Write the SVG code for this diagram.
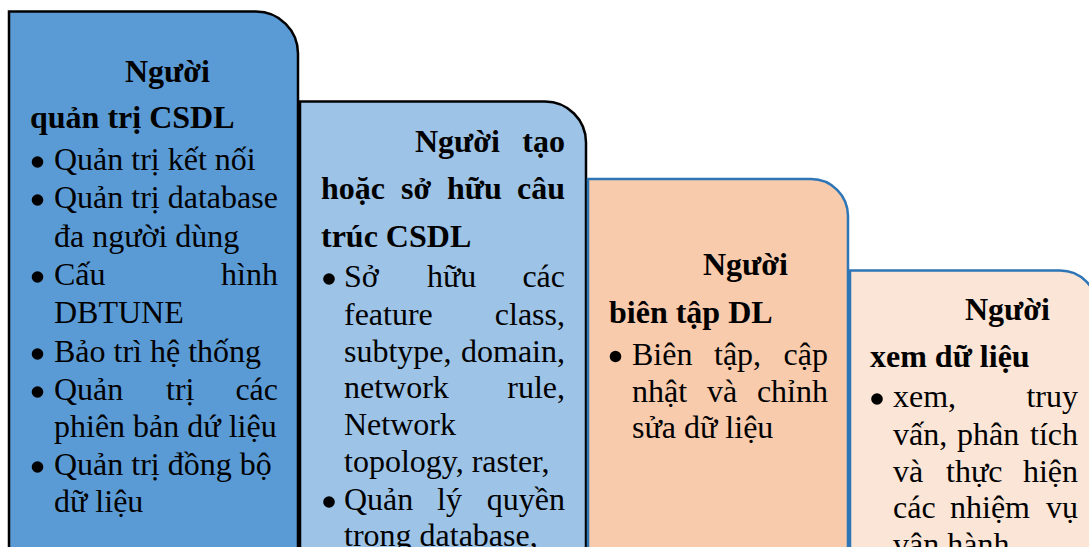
<svg xmlns="http://www.w3.org/2000/svg" width="1089" height="547" viewBox="0 0 1089 547">
<style>
.t{font-family:"Liberation Serif","Times New Roman",serif;font-size:32px;fill:#000}
.b{font-weight:bold}
.e{text-anchor:end}
.k{stroke:#000;stroke-width:2.5}
.u{stroke:#2E75B6;stroke-width:2.5}
.d{fill:#000}
</style>
<rect width="1089" height="547" fill="#fff"/>
<g id="node1">
<path class="k" fill="#5B9BD5" d="M9,11.5 H256 A42,42 0 0 1 298,53.5 V560 H9 Z"/>
<text class="t b" x="125" y="82">Người</text>
<text class="t b" x="30" y="128">quản trị CSDL</text>
<circle class="d" cx="37.5" cy="162" r="5.8"/>
<text class="t" x="54" y="170">Quản trị kết nối</text>
<circle class="d" cx="37.5" cy="200" r="5.8"/>
<text class="t" x="54" y="208">Quản trị database</text>
<text class="t" x="54" y="247">đa người dùng</text>
<circle class="d" cx="37.5" cy="277" r="5.8"/>
<text class="t" x="54" y="285">Cấu</text>
<text class="t e" x="278" y="285">hình</text>
<text class="t" x="54" y="323">DBTUNE</text>
<circle class="d" cx="37.5" cy="354" r="5.8"/>
<text class="t" x="54" y="362">Bảo trì hệ thống</text>
<circle class="d" cx="37.5" cy="392" r="5.8"/>
<text class="t" x="54" y="400">Quản</text>
<text class="t" x="166" y="400">trị</text>
<text class="t e" x="278" y="400">các</text>
<text class="t" x="54" y="437">phiên bản dứ liệu</text>
<circle class="d" cx="37.5" cy="467" r="5.8"/>
<text class="t" x="54" y="475">Quản trị đồng bộ</text>
<text class="t" x="54" y="512">dữ liệu</text>
</g>
<g id="node2">
<path class="k" fill="#9DC3E6" d="M300,101.5 H545 A41,41 0 0 1 586,142.5 V560 H300 Z"/>
<text class="t b" x="415" y="152">Người</text>
<text class="t b e" x="565" y="152">tạo</text>
<text class="t b" x="321" y="199">hoặc</text>
<text class="t b" x="401" y="199">sở</text>
<text class="t b" x="447" y="199">hữu</text>
<text class="t b e" x="565" y="199">câu</text>
<text class="t b" x="321" y="247">trúc CSDL</text>
<circle class="d" cx="329" cy="279" r="5.8"/>
<text class="t" x="344" y="287">Sở</text>
<text class="t" x="427" y="287">hữu</text>
<text class="t e" x="565" y="287">các</text>
<text class="t" x="344" y="325">feature</text>
<text class="t e" x="565" y="325">class,</text>
<text class="t" x="344" y="362">subtype,</text>
<text class="t e" x="565" y="362">domain,</text>
<text class="t" x="344" y="398">network</text>
<text class="t e" x="565" y="398">rule,</text>
<text class="t" x="344" y="435">Network</text>
<text class="t" x="344" y="472">topology, raster,</text>
<circle class="d" cx="329" cy="502" r="5.8"/>
<text class="t" x="344" y="510">Quản</text>
<text class="t" x="437" y="510">lý</text>
<text class="t e" x="565" y="510">quyền</text>
<text class="t" x="344" y="546">trong database,</text>
</g>
<g id="node3">
<path class="u" fill="#F8CBAD" d="M588,179 H811 A37,37 0 0 1 848,216 V560 H588 Z"/>
<text class="t b" x="703" y="275">Người</text>
<text class="t b" x="609" y="323">biên tập DL</text>
<circle class="d" cx="615.5" cy="356.5" r="5.8"/>
<text class="t" x="632" y="365">Biên</text>
<text class="t" x="714" y="365">tập,</text>
<text class="t e" x="828" y="365">cập</text>
<text class="t" x="632" y="402">nhật</text>
<text class="t" x="707" y="402">và</text>
<text class="t e" x="828" y="402">chỉnh</text>
<text class="t" x="632" y="438">sửa dữ liệu</text>
</g>
<g id="node4">
<path class="u" fill="#FBE5D6" d="M850,270.5 H1060 A37,37 0 0 1 1097,307.5 V560 H850 Z"/>
<text class="t b" x="965" y="320">Người</text>
<text class="t b" x="870" y="367">xem dữ liệu</text>
<circle class="d" cx="877" cy="399" r="5.8"/>
<text class="t" x="893" y="407">xem,</text>
<text class="t e" x="1078" y="407">truy</text>
<text class="t" x="893" y="445">vấn,</text>
<text class="t" x="957" y="445">phân</text>
<text class="t e" x="1078" y="445">tích</text>
<text class="t" x="893" y="482">và</text>
<text class="t" x="946" y="482">thực</text>
<text class="t e" x="1078" y="482">hiện</text>
<text class="t" x="893" y="518">các</text>
<text class="t" x="950" y="518">nhiệm</text>
<text class="t e" x="1078" y="518">vụ</text>
<text class="t" x="893" y="555">vận hành</text>
</g>
<g id="connectors"/>
</svg>
